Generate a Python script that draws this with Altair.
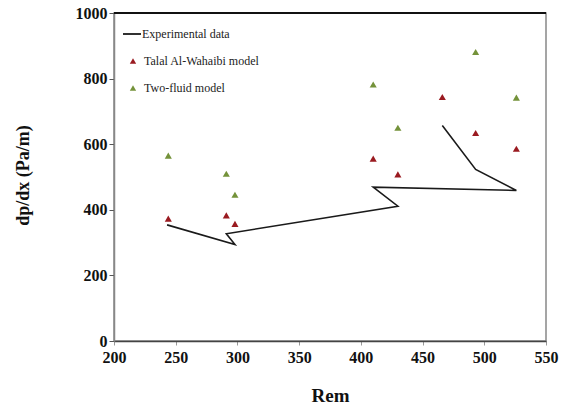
import altair as alt
import pandas as pd

# Experimental data (line, in plotted order)
exp_x = [243, 298, 291, 430, 410, 526, 493, 466]
exp_y = [354, 294, 327, 411, 469, 459, 523, 657]

# Model predictions
rem = [244, 291, 298, 410, 430, 466, 493, 526]
talal_y = [373, 383, 357, 556, 508, 744, 634, 586]
twofluid_y = [565, 510, 446, 782, 650, None, 881, 742]

line_series = ["Experimental data"]
model_series = [" Talal Al-Wahaibi model", "Two-fluid model"]
line_colors = ["#1a1a1a"]
model_colors = ["#9A1A20", "#74923A"]

line_df = pd.DataFrame({"Rem": exp_x, "dp": exp_y, "series": line_series[0],
                        "order": list(range(len(exp_x)))})
pts = []
for x, a, b in zip(rem, talal_y, twofluid_y):
    if a is not None:
        pts.append({"Rem": x, "dp": a, "series": model_series[0]})
    if b is not None:
        pts.append({"Rem": x, "dp": b, "series": model_series[1]})
pts_df = pd.DataFrame(pts)

FONT = "Liberation Serif"

xscale = alt.Scale(domain=[200, 550], nice=False, zero=False)
yscale = alt.Scale(domain=[0, 1000], nice=False)
xaxis = alt.Axis(values=[200, 250, 300, 350, 400, 450, 500, 550], title="Rem",
                 grid=False, labelFont=FONT, labelFontWeight="bold", labelFontSize=16,
                 labelColor="#111", titleFont=FONT, titleFontWeight="bold",
                 titleFontSize=19, titleColor="#111", titlePadding=21,
                 domainColor="#444", domainWidth=1.5, tickColor="#999", tickSize=4,
                 labelPadding=4, labelFlush=False, format="d")
yaxis = alt.Axis(values=[0, 200, 400, 600, 800, 1000], title="dp/dx (Pa/m)",
                 grid=False, labelFont=FONT, labelFontWeight="bold", labelFontSize=16,
                 labelColor="#111", titleFont=FONT, titleFontWeight="bold",
                 titleFontSize=18, titleColor="#111", titleX=-82, titleY=162,
                 domainColor="#888", domainWidth=1.5, tickColor="#555", tickSize=5,
                 labelPadding=2, format="d")

line = alt.Chart(line_df).mark_line(strokeWidth=1.6).encode(
    x=alt.X("Rem:Q", scale=xscale, axis=xaxis),
    y=alt.Y("dp:Q", scale=yscale, axis=yaxis),
    order="order:Q",
    color=alt.Color("series:N",
                    scale=alt.Scale(domain=line_series, range=line_colors),
                    legend=alt.Legend(title=None, orient="none", legendX=8, legendY=11,
                                      labelFont=FONT, labelFontSize=12, labelColor="#222",
                                      symbolType="stroke", symbolSize=324,
                                      symbolStrokeWidth=1.8, labelOffset=0)),
)

points = alt.Chart(pts_df).mark_point(filled=True, size=50, opacity=1,
                                      shape="triangle-up").encode(
    x=alt.X("Rem:Q", scale=xscale, axis=xaxis),
    y=alt.Y("dp:Q", scale=yscale, axis=yaxis),
    color=alt.Color("series:N",
                    scale=alt.Scale(domain=model_series, range=model_colors),
                    legend=alt.Legend(title=None, orient="none", legendX=13, legendY=42,
                                      labelFont=FONT, labelFontSize=12, labelColor="#222",
                                      symbolType="triangle-up", symbolSize=40,
                                      rowPadding=15, labelOffset=5)),
)

top_border = alt.Chart(pd.DataFrame({"v": [1000]})).mark_rule(
    color="#111", strokeWidth=2).encode(y=alt.Y("v:Q", scale=yscale, axis=yaxis))

chart = alt.layer(line, points, top_border).resolve_scale(color="independent").properties(
    width=432, height=328,
    autosize=alt.AutoSizeParams(type="none"),
    padding={"left": 114, "top": 13, "right": 20, "bottom": 68},
    background="white",
).configure_view(stroke="#888", strokeWidth=1.5)

chart.save("out.html", embed_options={"renderer": "svg", "actions": False})
